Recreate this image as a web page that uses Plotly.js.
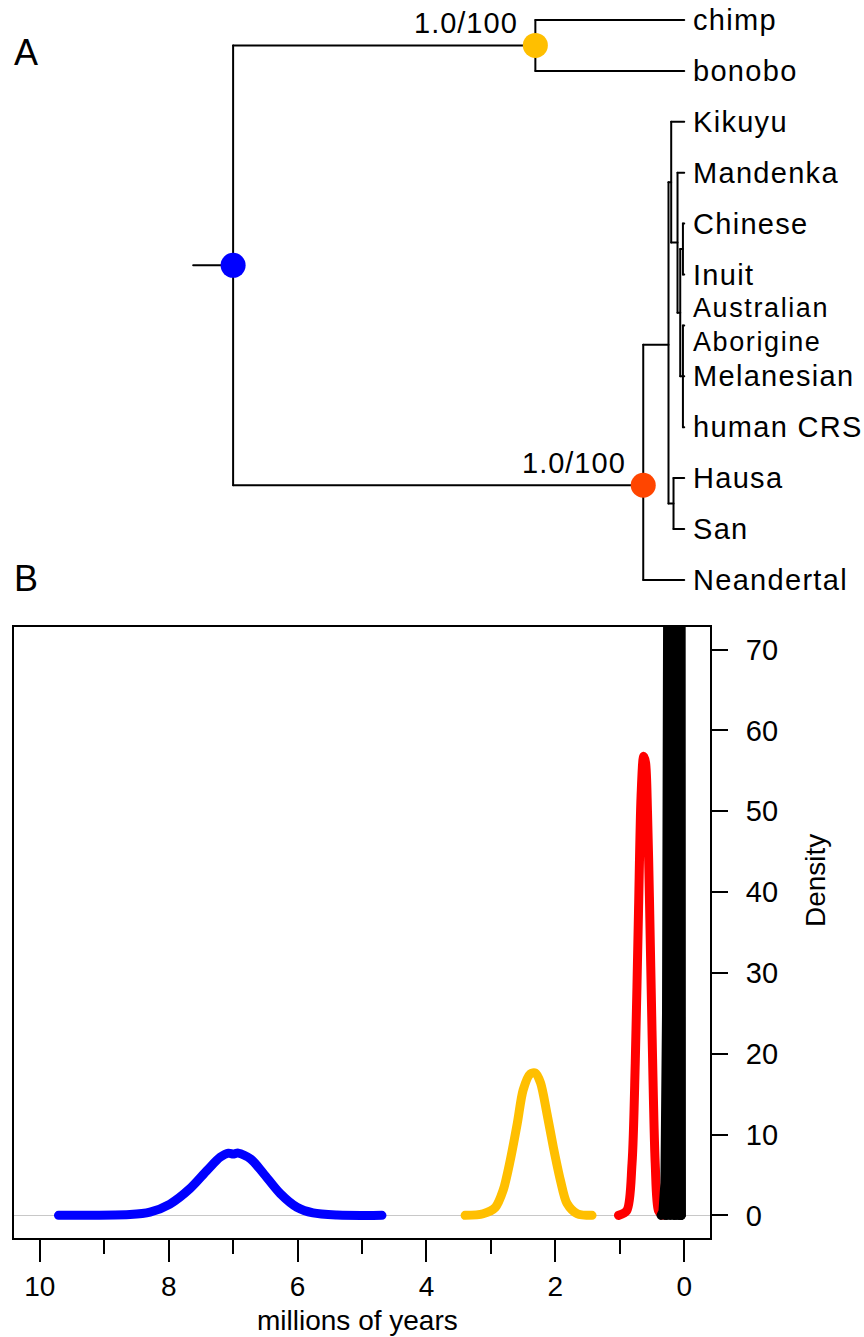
<!DOCTYPE html>
<html>
<head>
<meta charset="utf-8">
<script src="https://cdn.plot.ly/plotly-3.0.1.min.js"></script>
<style>
  html, body { margin: 0; padding: 0; background: #fff; }
  #plot { width: 864px; height: 1337px; }
  .js-line { stroke-linecap: round; stroke-linejoin: round; }
</style>
</head>
<body>
<div id="plot"></div>
<script>
// ---------------- Panel A: tree data ----------------
const tipKeys   = ['chimp','bonobo','Kikuyu','Mandenka','Chinese','Inuit','Aborigine','Melanesian','humanCRS','Hausa','San','Neandertal'];
const tipLabels = ['chimp','bonobo','Kikuyu','Mandenka','Chinese','Inuit','Australian<br>Aborigine','Melanesian','human CRS','Hausa','San','Neandertal'];
const tipRows   = [12, 11, 10, 9, 8, 7, 6, 5, 4, 3, 2, 1];
const tipAges   = [0, 0, 0, 0, 0, 0, 0, 0, 0, 0, 0, 0];

const nodeKeys = ['root','apes','hom','B','C','D','E','CI','AMC','HS'];
const nodeAges = [7.00, 2.31, 0.636, 0.244, 0.202, 0.104, 0.062, 0.02, 0.02, 0.166];
const nodeRows = [7.18, 11.5, 2.86, 5.62, 8.81, 7.63, 6.25, 7.5, 5.0, 2.5];
const rootStemAge = 7.62;

const edgeParent = ['root','root','apes','apes','hom','hom','B','B','C','C','D','D','E','E','CI','CI','AMC','AMC','AMC','HS','HS'];
const edgeChild  = ['apes','hom','chimp','bonobo','B','Neandertal','C','HS','Kikuyu','D','Mandenka','E','CI','AMC','Chinese','Inuit','Aborigine','Melanesian','humanCRS','Hausa','San'];

const dotNodes  = ['root','apes','hom'];
const dotColors = ['#0000FF','#FFBF00','#FF4500'];
const supportNodes  = ['apes','hom'];
const supportLabels = ['1.0/100','1.0/100'];

// ---------------- Panel B: density data ----------------
const blueX = [9.71, 8.60, 8.29, 7.98, 7.67, 7.40, 7.20, 7.07, 7.00, 6.92, 6.73, 6.53, 6.27, 6.01, 5.76, 5.39, 4.69];
const blueY = [0, 0.1, 0.4, 1.4, 3.3, 5.6, 7.2, 7.7, 7.6, 7.7, 7.0, 5.2, 2.7, 1.0, 0.3, 0.05, 0];

const yellowX = [3.40, 3.12, 2.93, 2.81, 2.70, 2.59, 2.50, 2.39, 2.31, 2.23, 2.13, 2.03, 1.92, 1.82, 1.66, 1.43];
const yellowY = [0, 0.2, 1.0, 3.1, 6.8, 11.4, 15.5, 17.5, 17.6, 16.4, 12.6, 8.4, 4.3, 1.5, 0.2, 0];

const redX = [1.02, 0.89, 0.81, 0.76, 0.71, 0.67, 0.63, 0.60, 0.57, 0.54, 0.50, 0.45, 0.40, 0.34];
const redY = [0, 0.6, 6.4, 18.8, 37.4, 51.8, 56.8, 56.0, 50.0, 39.4, 22.9, 6.4, 0.6, 0];

const black1X = [0.36, 0.33, 0.30, 0.285, 0.275, 0.265, 0.255, 0.245, 0.235, 0.225, 0.215, 0.20, 0.17, 0.14];
const black1Y = [0, 0.5, 4, 12, 25, 55, 95, 110, 95, 55, 25, 10, 2, 0];
const black2X = [0.30, 0.27, 0.25, 0.235, 0.22, 0.20, 0.18, 0.165, 0.15, 0.12, 0.09];
const black2Y = [0, 1, 8, 30, 90, 140, 90, 30, 8, 1, 0];
const black3X = [0.27, 0.24, 0.21, 0.19, 0.175, 0.16, 0.145, 0.13, 0.11, 0.08, 0.05];
const black3Y = [0, 1, 8, 35, 100, 150, 100, 35, 8, 1, 0];
const black4X = [0.22, 0.19, 0.16, 0.14, 0.125, 0.11, 0.095, 0.08, 0.065, 0.05];
const black4Y = [0, 1, 10, 40, 120, 170, 120, 40, 10, 0];
const black5X = [0.17, 0.14, 0.115, 0.10, 0.085, 0.075, 0.065, 0.056, 0.05, 0.047];
const black5Y = [0, 2, 15, 60, 150, 200, 150, 60, 15, 0];
const black6X = [0.14, 0.11, 0.09, 0.075, 0.062, 0.052, 0.048, 0.046];
const black6Y = [0, 2, 20, 90, 200, 250, 100, 0];

const xTickVals = [10, 8, 6, 4, 2, 0];
const xTickText = ['10', '8', '6', '4', '2', '0'];
const yTickVals = [0, 10, 20, 30, 40, 50, 60, 70];
const yTickText = ['0', '10', '20', '30', '40', '50', '60', '70'];

// ---------------- build ----------------
const FONT = 'Liberation Sans, Arial, Helvetica, sans-serif';
const pos = {};
tipKeys.forEach((k, i) => pos[k] = {age: tipAges[i], row: tipRows[i]});
nodeKeys.forEach((k, i) => pos[k] = {age: nodeAges[i], row: nodeRows[i]});

const tx = [], ty = [];
tx.push(rootStemAge, pos.root.age, null); ty.push(pos.root.row, pos.root.row, null);
const parents = [...new Set(edgeParent)];
parents.forEach(p => {
  const kids = edgeChild.filter((c, i) => edgeParent[i] === p);
  const rows = kids.map(c => pos[c].row);
  tx.push(pos[p].age, pos[p].age, null);
  ty.push(Math.min(...rows), Math.max(...rows), null);
  kids.forEach(c => {
    tx.push(pos[p].age, pos[c].age, null);
    ty.push(pos[c].row, pos[c].row, null);
  });
});

const traces = [];
traces.push({
  x: tx, y: ty, xaxis: 'x2', yaxis: 'y2', mode: 'lines', type: 'scatter',
  line: {color: '#000', width: 2}, hoverinfo: 'skip', connectgaps: false
});
traces.push({
  x: dotNodes.map(k => pos[k].age), y: dotNodes.map(k => pos[k].row),
  xaxis: 'x2', yaxis: 'y2', mode: 'markers', type: 'scatter',
  marker: {size: 25, color: dotColors, line: {width: 0}}, hoverinfo: 'skip'
});

const dens = [
  [blueX, blueY, '#0000FF', 'spline'],
  [yellowX, yellowY, '#FFBF00', 'spline'],
  [redX, redY, '#FF0000', 'spline'],
  [black1X, black1Y, '#000000', 'linear'],
  [black2X, black2Y, '#000000', 'linear'],
  [black3X, black3Y, '#000000', 'linear'],
  [black4X, black4Y, '#000000', 'linear'],
  [black5X, black5Y, '#000000', 'linear'],
  [black6X, black6Y, '#000000', 'linear']
];
dens.forEach(d => traces.push({
  x: d[0], y: d[1], xaxis: 'x', yaxis: 'y', mode: 'lines', type: 'scatter',
  line: {color: d[2], width: 9, shape: d[3], smoothing: 0.8}, hoverinfo: 'skip'
}));

const sp = (t, ls) => '<span style="letter-spacing:' + ls + 'px">' + t + '</span>';
const annotations = [];
tipKeys.forEach((k, i) => {
  const lines = tipLabels[i].split('<br>');
  if (lines.length === 1) {
    annotations.push({
      x: pos[k].age, y: pos[k].row, xref: 'x2', yref: 'y2', text: sp(lines[0], 1.3),
      showarrow: false, xanchor: 'left', yanchor: 'middle', xshift: 7, align: 'left',
      font: {family: FONT, size: 29, color: '#000'}
    });
  } else {
    // two-line tip label: one annotation per line, stacked around the tip
    lines.forEach((ln, j) => annotations.push({
      x: pos[k].age, y: pos[k].row, xref: 'x2', yref: 'y2', text: sp(ln, 1.6),
      showarrow: false, xanchor: 'left', yanchor: 'middle', xshift: 7, align: 'left',
      yshift: j === 0 ? 17 : -17,
      font: {family: FONT, size: 27, color: '#000'}
    }));
  }
});
supportNodes.forEach((k, i) => annotations.push({
  x: pos[k].age, y: pos[k].row, xref: 'x2', yref: 'y2', text: sp(supportLabels[i], 1),
  showarrow: false, xanchor: 'right', yanchor: 'middle', xshift: -15, yshift: 22,
  font: {family: FONT, size: 29, color: '#000'}
}));
annotations.push({x: 26/864, y: 1 - 52/1337, xref: 'paper', yref: 'paper', text: 'A', showarrow: false,
  xanchor: 'center', yanchor: 'middle', font: {family: FONT, size: 36, color: '#000'}});
annotations.push({x: 26/864, y: 1 - 578/1337, xref: 'paper', yref: 'paper', text: 'B', showarrow: false,
  xanchor: 'center', yanchor: 'middle', font: {family: FONT, size: 36, color: '#000'}});
annotations.push({x: 357/864, y: 1 - 1320/1337, xref: 'paper', yref: 'paper', text: 'millions of years', showarrow: false,
  xanchor: 'center', yanchor: 'middle', font: {family: FONT, size: 28, color: '#000'}});
annotations.push({x: 815/864, y: 1 - 881/1337, xref: 'paper', yref: 'paper', text: 'Density', showarrow: false,
  textangle: -90, xanchor: 'center', yanchor: 'middle', font: {family: FONT, size: 28, color: '#000'}});

const pxPerUnit = (710 - 14) / 10.8;
const layout = {
  width: 864, height: 1337,
  margin: {l: 0, r: 0, t: 0, b: 0, pad: 0},
  paper_bgcolor: '#fff', plot_bgcolor: '#fff',
  showlegend: false,
  font: {family: FONT, size: 29, color: '#000'},
  xaxis: {
    domain: [14/864, 710/864], range: [10.4, -0.4], autorange: false,
    showgrid: false, zeroline: false,
    showline: true, mirror: true, linecolor: '#000', linewidth: 2,
    ticks: 'outside', ticklen: 22, tickwidth: 2, tickcolor: '#000',
    tickvals: xTickVals, ticktext: xTickText, ticklabelstandoff: 0,
    tickfont: {family: FONT, size: 28, color: '#000'},
    minor: {dtick: 1, tick0: 0, ticks: 'outside', ticklen: 14, tickwidth: 2, tickcolor: '#000', showgrid: false},
    anchor: 'y', fixedrange: true
  },
  yaxis: {
    domain: [1 - 1238/1337, 1 - 627/1337], range: [-2.8, 72.8], autorange: false,
    side: 'right', showgrid: false,
    zeroline: true, zerolinecolor: '#c8c8c8', zerolinewidth: 1,
    showline: true, mirror: true, linecolor: '#000', linewidth: 2,
    ticks: 'outside', ticklen: 16, tickwidth: 2, tickcolor: '#000',
    tickvals: yTickVals, ticktext: yTickText, ticklabelstandoff: 12,
    tickfont: {family: FONT, size: 29, color: '#000'},
    anchor: 'x', fixedrange: true
  },
  xaxis2: {
    domain: [0, 1], range: [10.4 + 14/pxPerUnit, 10.4 - 850/pxPerUnit], autorange: false,
    visible: false, anchor: 'y2', fixedrange: true
  },
  yaxis2: {
    domain: [1 - 600/1337, 1], range: [12 - 580/50.9, 12 + 20/50.9], autorange: false,
    visible: false, anchor: 'x2', fixedrange: true
  },
  annotations: annotations
};

Plotly.newPlot('plot', traces, layout, {staticPlot: true, displayModeBar: false});
</script>
</body>
</html>
